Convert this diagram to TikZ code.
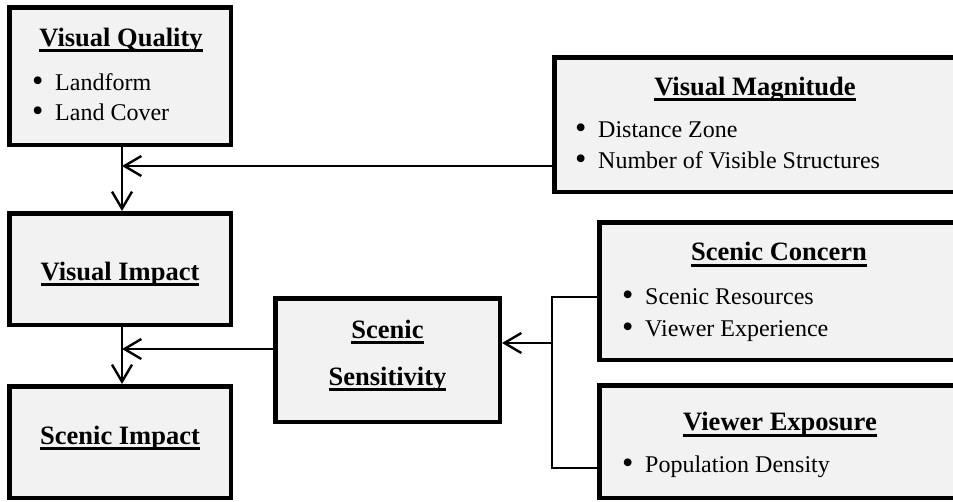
\documentclass[tikz,border=0pt]{standalone}
\usepackage{fontspec}
\setmainfont{Liberation Serif}
\usetikzlibrary{arrows.meta}
\definecolor{boxfill}{RGB}{242,242,242}
\newcommand\myul[1]{\sbox0{#1}\rlap{\rule[-6pt]{\wd0}{3.2pt}}\usebox0}
\newcommand\ttl[1]{\fontsize{26.5}{30}\selectfont\bfseries\myul{#1}}
\newcommand\itm[1]{\fontsize{24}{30}\selectfont\makebox[23pt][l]{\raisebox{-1.2pt}{\scalebox{1.35}{\textbullet}}}#1}
\tikzset{
  box/.style={draw=black, line width=4.5pt, fill=boxfill, rectangle, inner sep=0pt},
  ttlnode/.style={anchor=base, inner sep=0pt},
  itmnode/.style={anchor=base west, inner sep=0pt},
  conn/.style={line width=2.4pt},
  arr/.style={conn, -{Straight Barb[length=17pt,width=20pt]}}
}
\begin{document}
\begin{tikzpicture}[x=1pt,y=-1pt]
\useasboundingbox (0,0) rectangle (953,501);
% boxes
\node[box, minimum width=221.5pt, minimum height=137.5pt] (vq) at (120,76) {};
\node[box, minimum width=221.5pt, minimum height=111.5pt] (vi) at (120,269) {};
\node[box, minimum width=221.5pt, minimum height=111.5pt] (si) at (120,442) {};
\node[box, minimum width=224.5pt, minimum height=123.5pt] (ss) at (387.5,360) {};
\node[box, minimum width=404.5pt, minimum height=134.5pt] (vm) at (756.5,124.5) {};
\node[box, minimum width=359.5pt, minimum height=137.5pt] (sc) at (779,291) {};
\node[box, minimum width=359.5pt, minimum height=112.5pt] (ve) at (779,441.5) {};
% texts
\node[ttlnode] (vqt) at (121,46) {\ttl{Visual Quality}};
\node[itmnode] (vq1) at (32,90.5) {\itm{Landform}};
\node[itmnode] (vq2) at (32,120.5) {\itm{Land Cover}};
\node[ttlnode] (vit) at (120,280) {\ttl{Visual Impact}};
\node[ttlnode] (sit) at (120,444.3) {\ttl{Scenic Impact}};
\node[ttlnode] (sst1) at (387.5,338.3) {\ttl{Scenic}};
\node[ttlnode] (sst2) at (387.5,385) {\ttl{Sensitivity}};
\node[ttlnode] (vmt) at (755,95) {\ttl{Visual Magnitude}};
\node[itmnode] (vm1) at (575,137.3) {\itm{Distance Zone}};
\node[itmnode] (vm2) at (575,168.7) {\itm{Number of Visible Structures}};
\node[ttlnode] (sct) at (779,260.7) {\ttl{Scenic Concern}};
\node[itmnode] (sc1) at (622,304) {\itm{Scenic Resources}};
\node[itmnode] (sc2) at (622,336) {\itm{Viewer Experience}};
\node[ttlnode] (vet) at (780,430.7) {\ttl{Viewer Exposure}};
\node[itmnode] (ve1) at (622,472.7) {\itm{Population Density}};
% connector coordinates
\coordinate (j1) at (122,166);
\coordinate (j2) at (122,349);
\coordinate (b1) at (552,297);
\coordinate (b2) at (552,468);
\coordinate (b3) at (552,343);
% connectors
\draw[arr] (vq.south -| j1) -- (vi.north -| j1);
\draw[arr] (vi.south -| j1) -- (si.north -| j1);
\draw[arr] (vm.west |- j1) -- (j1);
\draw[arr] (ss.west |- j2) -- (j2);
\draw[conn] (sc.west |- b1) -- (b1) -- (b2) -- (ve.west |- b2);
\draw[arr] (b3) -- (ss.east |- b3);
\end{tikzpicture}
\end{document}
